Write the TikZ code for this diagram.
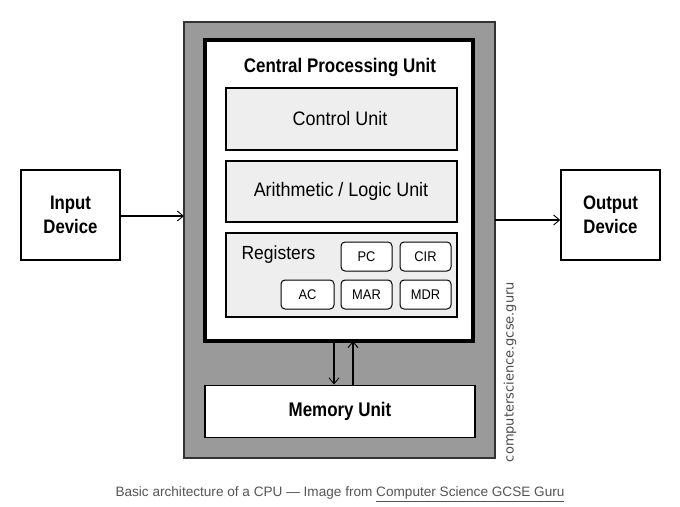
\documentclass[tikz,border=0pt]{standalone}
\usepackage{fontspec}
\setmainfont{Liberation Sans}
\newfontfamily\cond[FakeStretch=0.92]{Liberation Sans}
\newfontfamily\condb[FakeStretch=0.86]{Liberation Sans Bold}
\newfontfamily\wm{DejaVu Sans}
\usetikzlibrary{arrows.meta}
\definecolor{boxgray}{HTML}{9A9A9A}
\definecolor{lightfill}{HTML}{EEEEEE}
\definecolor{captiongray}{HTML}{555555}
\begin{document}
\begin{tikzpicture}[x=1pt,y=-1pt,
  unitbox/.style={draw=black,line width=1.3pt,fill=lightfill},
  regbox/.style={draw=black,line width=1pt,fill=white,rounded corners=4pt},
  devbox/.style={draw=black,line width=1.5pt,fill=white},
  conn/.style={line width=1.5pt,-{Straight Barb[length=6pt,width=10pt,line width=0.9pt]}},
  lbl/.style={font=\cond\fontsize{19.5}{22}\selectfont},
  blbl/.style={font=\condb\fontsize{19.7}{22}\selectfont},
  rlbl/.style={font=\cond\fontsize{14}{16}\selectfont}]
\useasboundingbox (0,0) rectangle (680,506);
\fill[white] (0,0) rectangle (680,506);
% outer gray box
\path[draw=black!80,line width=1.2pt,fill=boxgray] (184,22) rectangle (495,458);
\coordinate (outerL) at (184,216);
\coordinate (outerR) at (495,220);
% CPU
\path[draw=black,line width=4pt,fill=white] (205,40) rectangle (473,341);
\node[blbl] (title) at (340,67) {Central Processing Unit};
\path[unitbox] (226,88) rectangle (457,150);
\node[lbl] (cu) at (340,119) {Control Unit};
\path[unitbox] (226,161) rectangle (457,222);
\node[lbl] (alu) at (341,191) {Arithmetic / Logic Unit};
\path[unitbox] (226,233) rectangle (457,317);
\node[lbl,font=\cond\fontsize{19}{22}\selectfont] (regs) at (278.5,255) {Registers};
\node[regbox,rlbl,minimum width=51pt,minimum height=29pt] (pc) at (366.5,256.5) {PC};
\node[regbox,rlbl,minimum width=51pt,minimum height=29pt] (cir) at (425.5,256.5) {CIR};
\node[regbox,rlbl,minimum width=53pt,minimum height=29pt] (ac) at (307.5,294.5) {AC};
\node[regbox,rlbl,minimum width=51pt,minimum height=29pt] (mar) at (366.5,294.5) {MAR};
\node[regbox,rlbl,minimum width=51pt,minimum height=29pt] (mdr) at (425.5,294.5) {MDR};
% memory
\node[draw=black,line width=1.3pt,fill=white,minimum width=270pt,minimum height=52pt,blbl] (mem) at (340,411.5) {Memory Unit};
\coordinate (cpuDown) at (334,341);
\coordinate (cpuUp) at (353,341);
\draw[conn] (cpuDown) -- (334,384.5);
\draw[conn] (353,385) -- (cpuUp);
% devices
\node[devbox,minimum width=99pt,minimum height=90pt,align=center,font=\condb\fontsize{19.5}{24}\selectfont] (in) at (70.5,215) {Input\\Device};
\node[devbox,minimum width=99pt,minimum height=90pt,align=center,font=\condb\fontsize{19.5}{24}\selectfont] (out) at (610.5,215) {Output\\Device};
\draw[conn] (in.east |- outerL) -- (outerL);
\draw[conn] (outerR) -- (out.west |- outerR);
% watermark
\node[rotate=90,font=\wm\fontsize{13}{15}\selectfont,text=black!70] (wm) at (510,372) {computerscience.gcse.guru};
% caption
\node[font=\fontsize{13.6}{16}\selectfont,text=captiongray] (cap) at (340,494) {Basic architecture of a CPU — Image from \underline{Computer Science GCSE Guru}};
\end{tikzpicture}
\end{document}
